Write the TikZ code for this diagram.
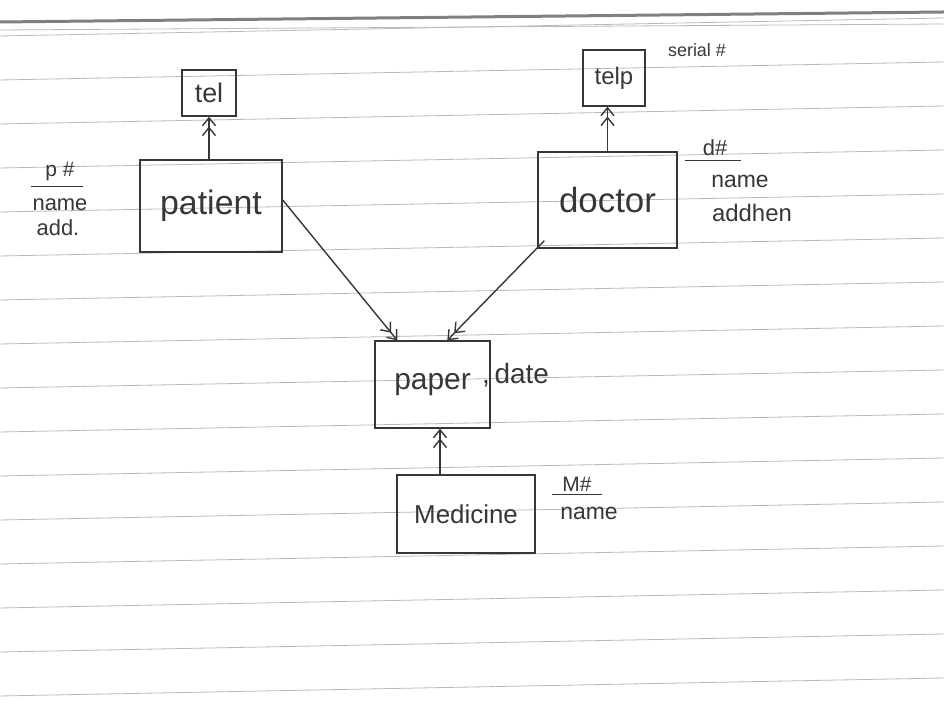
\documentclass[tikz,border=0pt]{standalone}
\usepackage{fontspec}
\setmainfont{Liberation Sans}
\usetikzlibrary{arrows.meta,calc}
\definecolor{ink}{RGB}{55,55,55}
\definecolor{rule}{RGB}{185,185,185}
\tikzset{
  ent/.style={draw=ink,line width=1.4bp,minimum width=#1,inner sep=0pt},
  rel/.style={draw=ink,line width=1.4bp,
    -{Straight Barb[length=8bp,width=13bp,line width=1.4bp]Straight Barb[length=8bp,width=13bp,line width=1.4bp]}},
  hand/.style={text=ink,inner sep=0pt},
  keyline/.style={draw=ink,line width=1.1bp},
  ruleline/.style={draw=rule,line width=0.8bp}
}
\begin{document}
\begin{tikzpicture}[x=1bp,y=1bp]
\useasboundingbox (0,0) rectangle (944,704);
\fill[white] (0,0) rectangle (944,704);
% paper ruling (y = 704 - pixel row)
\foreach \r in {36,80,124,168,212,256,300,344,388,432,476,520,564,608,652,696}{
  \draw[ruleline] (0,704-\r) -- (944,704-\r+18);
}
\draw[draw=gray,line width=3bp] (0,704-22) -- (944,704-12);
\draw[draw=rule,line width=0.8bp] (0,704-30) -- (944,704-24);

% entities
\node[ent=54bp,minimum height=46bp,font=\fontsize{27}{29}\selectfont,text=ink] (tel) at (209,611) {tel};
\node[ent=142bp,minimum height=92bp,font=\fontsize{34}{36}\selectfont,text=ink] (patient) at (211,498) {patient};
\node[ent=62bp,minimum height=56bp,font=\fontsize{24}{26}\selectfont,text=ink] (telp) at (614,626) {telp};
\node[ent=139bp,minimum height=96bp,font=\fontsize{35}{37}\selectfont,text=ink] (doctor) at (607.5,504) {doctor};
\node[ent=115bp,minimum height=87bp,font=\fontsize{30}{32}\selectfont,text=ink] (paper) at (432.5,319.5) {paper};
\node[ent=138bp,minimum height=78bp,font=\fontsize{26}{28}\selectfont,text=ink] (medicine) at (466,190) {Medicine};

% relationships
\draw[rel] (patient.north -| tel.south) -- (tel.south);
\draw[rel] (doctor.north) -- (doctor.north |- telp.south);
\draw[rel] ([xshift=-26bp]medicine.north) -- ([xshift=-26bp]medicine.north |- paper.south);
\draw[rel] ([yshift=6bp]patient.east) -- ([xshift=23bp]paper.north west);
\draw[rel] ([xshift=7bp,yshift=8bp]doctor.south west) -- ([xshift=73bp]paper.north west);

% attributes of patient
\node[hand,font=\fontsize{21}{23}\selectfont] (pkey) at (60,532) {p \#};
\draw[keyline] ([xshift=-14bp,yshift=-5bp]pkey.south west) -- ([xshift=8bp,yshift=-5bp]pkey.south east);
\node[hand,font=\fontsize{22}{24}\selectfont] (pname) at (60,499) {name};
\node[hand,font=\fontsize{22}{24}\selectfont] (padd) at (58,476) {add.};

% attribute of telp
\node[hand,font=\fontsize{18}{20}\selectfont] (serial) at (697,654) {serial \#};

% attributes of doctor
\node[hand,font=\fontsize{22}{24}\selectfont] (dkey) at (715,556) {d\#};
\draw[keyline] ([xshift=-18bp,yshift=-4bp]dkey.south west) -- ([xshift=14bp,yshift=-4bp]dkey.south east);
\node[hand,font=\fontsize{23}{25}\selectfont] (dname) at (740,523) {name};
\node[hand,font=\fontsize{24}{26}\selectfont] (daddr) at (752,491) {addhen};

% attribute of paper
\node[hand,font=\fontsize{28}{30}\selectfont,anchor=west] (date) at (482,329) {,\,date};

% attributes of medicine
\node[hand,font=\fontsize{21}{23}\selectfont] (mkey) at (577,220) {M\#};
\draw[keyline] ([xshift=-10bp,yshift=-3bp]mkey.south west) -- ([xshift=10bp,yshift=-3bp]mkey.south east);
\node[hand,font=\fontsize{23}{25}\selectfont] (mname) at (589,191) {name};
\end{tikzpicture}
\end{document}
